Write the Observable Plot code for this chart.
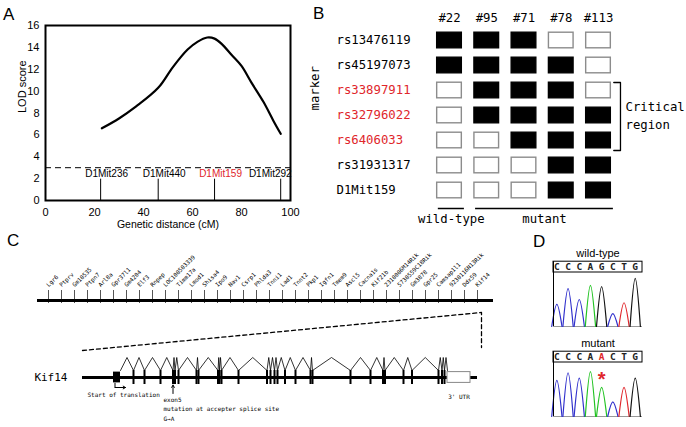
<!DOCTYPE html>
<html><head><meta charset="utf-8">
<script src="https://cdn.jsdelivr.net/npm/d3@7"></script>
<script src="https://cdn.jsdelivr.net/npm/@observablehq/plot@0.6"></script>
<style>
body{margin:0;background:#fff;}
#fig{position:relative;width:686px;height:427px;overflow:hidden;background:#fff;font-family:"Liberation Sans",Arial,sans-serif;}
.panel{position:absolute;}
.lbl{position:absolute;font-size:17px;line-height:1;color:#000;font-family:"Liberation Sans",Arial,sans-serif;}
</style></head><body>
<div id="fig"></div>
<script>
// ---------- Panel A: LOD curve ----------
const qtlDistance = [23, 30, 37, 46, 52, 58, 62, 66, 69, 72, 76, 80, 84, 89, 93, 96];
const qtlLod      = [6.6, 7.5, 8.6, 10.3, 12.2, 13.8, 14.5, 14.9, 14.8, 14.3, 13.3, 12.3, 10.8, 9.0, 7.3, 6.1];
const lodThreshold = 3;
const mitMarkers = ["D1Mit236", "D1Mit440", "D1Mit159", "D1Mit292"];
const mitPositions = [22.5, 46, 69, 96];
const mitHighlight = [false, false, true, false];
const xTicksA = [0, 20, 40, 60, 80, 100];
const yTicksA = [0, 2, 4, 6, 8, 10, 12, 14, 16];

// ---------- Panel B: haplotypes ----------
const samples = ["#22", "#95", "#71", "#78", "#113"];
const snpMarkers = ["rs13476119", "rs45197073", "rs33897911", "rs32796022", "rs6406033", "rs31931317", "D1Mit159"];
const markerCritical = [false, false, true, true, true, false, false];
const genotypes = [ // 1 = filled (mutant allele), 0 = open
  [1, 1, 1, 0, 0],
  [1, 1, 1, 1, 0],
  [0, 1, 1, 1, 0],
  [0, 1, 1, 1, 1],
  [0, 0, 1, 1, 1],
  [0, 0, 0, 1, 1],
  [0, 0, 0, 1, 1]
];
const groupLabels = ["wild-type", "mutant"];
const groupSamples = [["#22"], ["#95", "#71", "#78", "#113"]];
const criticalFrom = "rs33897911";
const criticalTo = "rs6406033";
const criticalLabel = "Critical\nregion";

// ---------- Panel C: gene map and Kif14 structure ----------
const genes = ["Lgr6", "Ptprv", "Gm10535", "Ptpn7", "Arl8a", "Gpr37l1", "Gm4204", "Elf3", "Rnpep",
  "LOC100503339", "Timm17a", "Lmod1", "Shisa4", "Ipo9", "Nav1", "Csrp1", "Phlda3", "Tnni1", "Lad1",
  "Tnnt2", "Pkp1", "Igfn1", "Tmem9", "Ascl5", "Cacna1s", "Kif21b", "2310006M14Rik", "5730559C18Rik",
  "Gm3878", "Gpr25", "Camsap1l1", "9230116N13Rik", "Ddx59", "Kif14"];
const kif14Length = 395;            // relative units along the Kif14 locus
const startExon = [31, 38];          // first coding exon (filled box)
const codingExons = [51, 62, 78, 90.5, 92.5, 96, 114, 116, 135.5, 137, 139, 156, 184.5, 188, 192, 195,
  202.5, 213, 228, 230, 268, 288, 300.5, 302.5, 321, 329.5, 356, 359.5, 362];
const utr3 = [365, 388];
const exon5Position = 90.5;
const annotationLines = ["exon5", "mutation at accepter splice site", "G\u2192A"];

// ---------- Panel D: chromatograms ----------
const wtSeq = ["C", "C", "C", "A", "G", "C", "T", "G"];
const wtPeaks = [41, 70, 50, 76, 74, 24, 44, 89];
const mutSeq = ["C", "C", "C", "A", "A", "C", "T", "G"];
const mutPeaks = [67, 81, 71, 83, 54, 27, 54, 71];
const mutIndex = 4;
const baseColors = {A: "#22c322", C: "#3030cc", G: "#111111", T: "#e0262b"};

const RED = "#e0262b";
const MONO = "DejaVu Sans Mono, Liberation Mono, monospace";
const SANS = "Liberation Sans, Arial, sans-serif";
const fig = document.getElementById("fig");
function place(node, left, top) {
  const d = document.createElement("div");
  d.className = "panel"; d.style.left = left + "px"; d.style.top = top + "px";
  d.appendChild(node); fig.appendChild(d);
}
function letter(t, left, top) {
  const d = document.createElement("div");
  d.className = "lbl"; d.textContent = t; d.style.left = left + "px"; d.style.top = top + "px";
  fig.appendChild(d);
}

// ===== Panel A =====
const qtl = qtlDistance.map((x, i) => ({x, lod: qtlLod[i]}));
const mitRows = mitMarkers.map((name, i) => ({name, x: mitPositions[i], red: mitHighlight[i]}));
const lastMit = mitRows[mitRows.length - 1];
const plotA = Plot.plot({
  width: 300, height: 235, marginLeft: 45, marginRight: 10, marginTop: 25, marginBottom: 35,
  style: {fontFamily: SANS, fontSize: "11px", color: "#000", background: "none"},
  x: {domain: [0, 100]},
  y: {domain: [0, 16]},
  marks: [
    Plot.axisX({ticks: xTicksA, tickSize: 0, tickPadding: 8, label: null}),
    Plot.axisY({ticks: yTicksA, tickSize: 0, tickPadding: 6, label: null}),
    Plot.ruleY([lodThreshold], {strokeDasharray: "6,4", strokeWidth: 1}),
    Plot.ruleX(mitPositions, {y1: 0, y2: 1.95, strokeWidth: 1}),
    Plot.text(mitRows.slice(0, -1), {x: "x", y: 2.4, text: "name", fontSize: 10, dx: 6,
      fill: d => d.red ? RED : "#000"}),
    Plot.text([lastMit], {x: "x", y: 2.4, text: "name", fontSize: 10, dx: 11, textAnchor: "end",
      fill: d => d.red ? RED : "#000"}),
    Plot.line(qtl, {x: "x", y: "lod", curve: "catmull-rom", strokeWidth: 2.2}),
    Plot.frame({strokeWidth: 2}),
    Plot.text(["LOD score"], {frameAnchor: "left", dx: -23, rotate: -90, fontSize: 11}),
    Plot.text(["Genetic distance (cM)"], {frameAnchor: "bottom", dy: 27, fontSize: 10.5})
  ]
});
place(plotA, 0, 0);

// ===== Panel B =====
const cells = [];
genotypes.forEach((row, r) => row.forEach((g, c) => cells.push({row: r, col: c, g})));
const rowOf = m => snpMarkers.indexOf(m);
const colOf = s => samples.indexOf(s);
const bTop = rowOf(criticalFrom) - 0.32, bBot = rowOf(criticalTo) + 0.4;
const bX = samples.length - 1 + 0.59, bArm = samples.length - 1 + 0.41;
const bracket = [{x: bArm, y: bTop}, {x: bX, y: bTop}, {x: bX, y: bBot}, {x: bArm, y: bBot}];
const groups = groupLabels.map((label, i) => ({
  label, x1: colOf(groupSamples[i][0]) - 0.3, x2: colOf(groupSamples[i][groupSamples[i].length - 1]) + 0.4
}));
const plotB = Plot.plot({
  width: 386, height: 230, margin: 0,
  style: {fontFamily: MONO, fontSize: "12.3px", color: "#000", background: "none"},
  x: {domain: [0, samples.length - 1], range: [149, 298], axis: null},
  y: {domain: [0, snpMarkers.length - 1], range: [40, 190], axis: null},
  marks: [
    Plot.rect(cells, {x1: d => d.col - 0.5, x2: d => d.col + 0.5, y1: d => d.row - 0.5, y2: d => d.row + 0.5,
      insetLeft: 6.3, insetRight: 6.3, insetTop: 4.7, insetBottom: 4.7,
      fill: d => d.g ? "#000000" : "#ffffff", stroke: d => d.g ? "#000000" : "#8c8c8c", strokeWidth: 1.4}),
    Plot.text(samples, {x: (d, i) => i, frameAnchor: "top", dy: 13, text: d => d}),
    Plot.text(snpMarkers, {y: (d, i) => i, frameAnchor: "left", dx: 36, textAnchor: "start", text: d => d,
      fill: (d, i) => markerCritical[i] ? RED : "#000000"}),
    Plot.text(["marker"], {frameAnchor: "left", dx: 15, dy: -5, rotate: -90}),
    Plot.line(bracket, {x: "x", y: "y", strokeWidth: 1.3}),
    Plot.text([criticalLabel], {x: bX, y: (bTop + bBot) / 2, dx: 5, dy: -2, textAnchor: "start", lineHeight: 1.45}),
    Plot.ruleY(groups, {y: 6.72, x1: "x1", x2: "x2", strokeWidth: 1.5}),
    Plot.text(groups, {x: d => (d.x1 + d.x2) / 2, y: 7.16, text: "label"})
  ]
});
place(plotB, 300, 0);

// ===== Panel C: gene map =====
const plotC1 = Plot.plot({
  width: 520, height: 80, marginLeft: 37, marginRight: 27, marginTop: 0, marginBottom: 0,
  style: {fontFamily: MONO, fontSize: "5.8px", color: "#000", background: "none"},
  x: {type: "point", domain: genes, range: [44, 481], padding: 0, axis: null},
  y: {domain: [0, 1], range: [70, 60], axis: null},
  marks: [
    Plot.ruleX(genes, {x: d => d, y1: -0.3, y2: 1, stroke: "#555", strokeWidth: 1}),
    Plot.ruleY([0], {stroke: "#000", strokeWidth: 3}),
    Plot.text(genes, {x: d => d, y: 1.45, text: d => d, rotate: -45, textAnchor: "start", dx: -1})
  ]
});
place(plotC1, 0, 230);

// ===== Panel C: Kif14 structure =====
const nodes = [startExon[1], ...codingExons, utr3[0]];
const introns = [];
for (let i = 0; i < nodes.length - 1; i++) {
  const a = nodes[i], b = nodes[i + 1];
  introns.push({k: i, x: a, y: 0.35}, {k: i, x: (a + b) / 2, y: 1}, {k: i, x: b, y: 0.35});
}
const zoomLines = [{x: 0, y: 1.35}, {x: kif14Length + 4, y: 3.25}, {x: kif14Length + 4, y: 1.5}];
const plotC2 = Plot.plot({
  width: 540, height: 122, margin: 0,
  style: {fontFamily: MONO, fontSize: "6px", color: "#000", background: "none"},
  x: {domain: [0, kif14Length], range: [82, 477], axis: null},
  y: {domain: [0, 1], range: [72, 52], axis: null},
  marks: [
    Plot.line(zoomLines, {x: "x", y: "y", strokeDasharray: "4,3", strokeWidth: 1.3}),
    Plot.ruleY([0], {x1: 0, x2: kif14Length, strokeWidth: 3}),
    Plot.line(introns, {x: "x", y: "y", z: "k", strokeWidth: 0.8}),
    Plot.ruleX(codingExons, {y1: -0.35, y2: 0.35, strokeWidth: 2}),
    Plot.rect([startExon], {x1: d => d[0], x2: d => d[1], y1: -0.27, y2: 0.27, fill: "#000"}),
    Plot.rect([utr3], {x1: d => d[0], x2: d => d[1], y1: -0.27, y2: 0.27, fill: "#fff", stroke: "#888", strokeWidth: 1}),
    Plot.text(["Kif14"], {x: 0, y: 0, dx: -15, textAnchor: "end", fontSize: 11}),
    Plot.link([{x: startExon[0] + 1.5, y1: -0.27, y2: -0.5}], {x1: "x", x2: "x", y1: "y1", y2: "y2", strokeWidth: 1}),
    Plot.arrow([{x1: startExon[0] + 1.5, x2: startExon[0] + 12, y: -0.5}], {x1: "x1", x2: "x2", y1: "y", y2: "y", headLength: 4, strokeWidth: 1}),
    Plot.text(["Start of translation"], {x: 5, y: -0.9, textAnchor: "start"}),
    Plot.arrow([{x: exon5Position, y1: -0.8, y2: -0.38}], {x1: "x", x2: "x", y1: "y1", y2: "y2", headLength: 4, strokeWidth: 1}),
    Plot.text(annotationLines, {x: exon5Position - 9.5, y: (d, i) => [-1.15, -1.6, -2.1][i], text: d => d, textAnchor: "start"}),
    Plot.text(["3' UTR"], {x: (utr3[0] + utr3[1]) / 2, y: -1.0})
  ]
});
place(plotC2, 0, 305);

// ===== Panel D =====
function chrom(title, seq, peaks, highlight) {
  const pts = [];
  seq.forEach((b, i) => {
    pts.push({i, base: b, x: i - 0.46, y: 0}, {i, base: b, x: i, y: peaks[i]}, {i, base: b, x: i + 0.46, y: 0});
  });
  const marks = [
    Plot.ruleY([0], {stroke: "#999", strokeWidth: 1}),
    Plot.line(pts, {x: "x", y: "y", z: "i", stroke: d => baseColors[d.base], curve: "monotone-x", strokeWidth: 1.2}),
    Plot.ruleX([-0.3], {y1: 0, y2: 120, strokeWidth: 1}),
    Plot.rect([0], {x1: -0.3, x2: 7.65, y1: 100, y2: 120, fill: "none", stroke: "#000", strokeWidth: 1}),
    Plot.text(seq, {x: (d, i) => i, y: 110, text: d => d, fontFamily: MONO, fontSize: 9.5, fontWeight: "bold",
      fill: (d, i) => i === highlight ? RED : "#222"}),
    Plot.text([title], {frameAnchor: "top", dy: -23, fontSize: 11})
  ];
  if (highlight >= 0) marks.push(Plot.text(["*"], {x: highlight, y: 68, fill: RED, fontSize: 20, fontWeight: "bold"}));
  return Plot.plot({
    width: 146, height: 90, marginLeft: 13, marginRight: 44, marginTop: 32, marginBottom: 4,
    style: {fontFamily: SANS, fontSize: "11px", color: "#000", background: "none"},
    x: {domain: [-0.3, 7.65], axis: null},
    y: {domain: [0, 100], axis: null},
    marks
  });
}
place(chrom("wild-type", wtSeq, wtPeaks, -1), 540, 240);
place(chrom("mutant", mutSeq, mutPeaks, mutIndex), 540, 330);

letter("A", 3, 6);
letter("B", 313, 5);
letter("C", 7, 232);
letter("D", 533, 233);
</script>
</body></html>
